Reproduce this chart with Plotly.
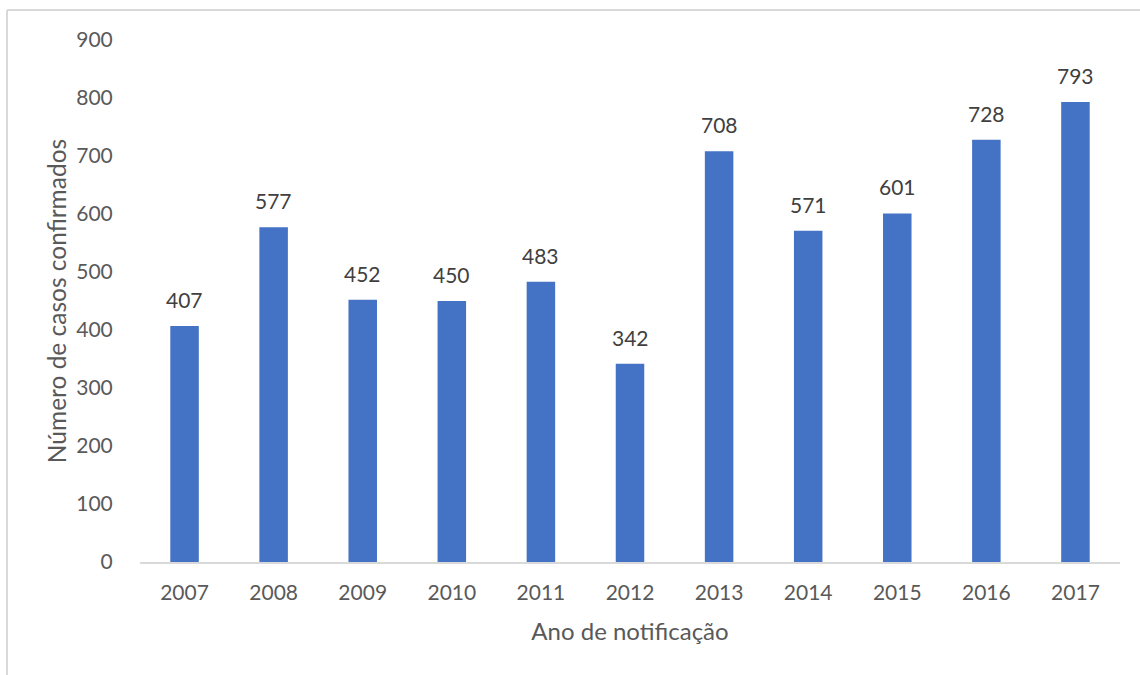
import plotly.graph_objects as go

anos = ["2007", "2008", "2009", "2010", "2011", "2012", "2013", "2014", "2015", "2016", "2017"]
casos = [407, 577, 452, 450, 483, 342, 708, 571, 601, 728, 793]
yticks = [0, 100, 200, 300, 400, 500, 600, 700, 800, 900]

FONT = "Lato, Calibri, Carlito, sans-serif"

fig = go.Figure(go.Bar(
    x=anos, y=casos,
    marker=dict(color="#4472C4", line=dict(width=0)),
    width=0.32,
    hoverinfo="x+y",
))

for i, v in enumerate(casos):
    fig.add_annotation(
        x=i, y=v, xref="x", yref="y", text=str(v), showarrow=False,
        xanchor="center", yanchor="bottom", yshift=12,
        font=dict(family=FONT, size=21, color="#404040"),
    )

fig.update_layout(
    width=1140, height=675,
    margin=dict(l=140, r=20, t=40, b=113),
    paper_bgcolor="white", plot_bgcolor="white",
    showlegend=False,
    font=dict(family=FONT, color="#595959"),
    xaxis=dict(
        type="category", range=[-0.5, 10.5],
        showgrid=False, showline=True, linecolor="#D9D9D9", linewidth=2,
        ticks="outside", ticklen=11, tickcolor="rgba(0,0,0,0)",
        tickfont=dict(family=FONT, size=21, color="#595959"),
        title=dict(text="Ano de notificação", font=dict(family=FONT, size=24, color="#595959"), standoff=20),
    ),
    yaxis=dict(
        range=[0, 900], tickvals=yticks,
        showgrid=False, zeroline=False, showline=False,
        ticks="outside", ticklen=22, tickcolor="rgba(0,0,0,0)",
        tickfont=dict(family=FONT, size=21, color="#595959"),
        title=dict(text="Número de casos confirmados", font=dict(family=FONT, size=24.5, color="#595959"), standoff=2),
    ),
    shapes=[
        dict(type="line", xref="paper", yref="paper", x0=-133/980, x1=1.2, y0=(562-10)/522, y1=(562-10)/522,
             line=dict(color="#D9D9D9", width=2)),
        dict(type="line", xref="paper", yref="paper", x0=-133/980, x1=-133/980, y0=(562-10)/522, y1=-0.3,
             line=dict(color="#D9D9D9", width=2)),
    ],
)

fig.write_html("out.html")
